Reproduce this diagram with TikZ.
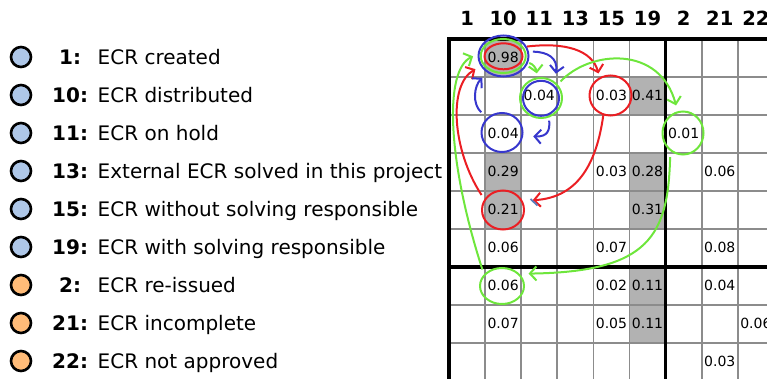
\documentclass[tikz,border=0pt]{standalone}
\usepackage{fontspec}
\setmainfont{DejaVu Sans}
\usetikzlibrary{arrows.meta,shapes.geometric}
\definecolor{cred}{RGB}{235,30,35}
\definecolor{cblue}{RGB}{55,55,205}
\definecolor{cgreen}{RGB}{110,230,60}
\definecolor{csteel}{RGB}{90,125,190}
\definecolor{gridgray}{RGB}{140,140,140}
\definecolor{cellgray}{RGB}{178,178,178}
\definecolor{lblue}{HTML}{AEC7E8}
\definecolor{lorange}{HTML}{FFBB78}
\begin{document}
\begin{tikzpicture}[x=1pt,y=-1pt,
  ring/.style={ellipse, draw, line width=2pt, inner sep=0pt},
  conn/.style={line width=2pt, -{Straight Barb[length=6.5pt,width=14pt]}},
  val/.style={font=\fontsize{14}{16}\selectfont, inner sep=0pt},
  hdr/.style={font=\fontsize{19.5}{22}\selectfont\bfseries, inner sep=0pt},
  legtxt/.style={font=\fontsize{20}{22}\selectfont, inner sep=0pt, anchor=base west},
  legnum/.style={font=\fontsize{20}{22}\selectfont\bfseries, inner sep=0pt, anchor=base west},
  legdot/.style={circle, draw=black, line width=2.6pt, minimum size=20pt, inner sep=0pt},
  thin/.style={draw=gridgray, line width=1.8pt},
  thick/.style={draw=black, line width=3.5pt},
]
\useasboundingbox (0,0) rectangle (767,379);
\begin{scope}
\clip (0,0) rectangle (767,379);
% gray cells
\foreach \r/\c in {0/1,1/5,3/1,3/5,4/1,4/5,6/5,7/5}
  \fill[cellgray] ({449+36.1*\c},{39+38*\r}) rectangle ++(36.1,38);
% thin grid
\foreach \c in {1,2,3,4,5,7,8,9}
  \draw[thin] ({449+36.1*\c},39) -- ({449+36.1*\c},390);
\foreach \r in {1,2,3,4,5,7,8}
  \draw[thin] (449,{39+38*\r}) -- (790,{39+38*\r});
% thick lines
\draw[thick] (449,37.25) -- (449,390);
\draw[thick] (665.6,39) -- (665.6,390);
\draw[thick] (447.25,39) -- (790,39);
\draw[thick] (449,267) -- (790,267);
% header
\foreach \lab [count=\i from 0] in {1,10,11,13,15,19,2,21,22}
  \node[hdr] (h\i) at ({449+36.1*(\i+0.5)},18.7) {\lab};
% values
\foreach \r/\c/\v in {0/1/0.98,1/2/0.04,1/4/0.03,1/5/0.41,2/1/0.04,2/6/0.01,
  3/1/0.29,3/4/0.03,3/5/0.28,3/7/0.06,4/1/0.21,4/5/0.31,5/1/0.06,5/4/0.07,5/7/0.08,
  6/1/0.06,6/4/0.02,6/5/0.11,6/7/0.04,7/1/0.07,7/4/0.05,7/5/0.11,7/8/0.06,8/7/0.03}
  \node[val] (v\r-\c) at ({449+36.1*(\c+0.5)},{57.3+38*\r}) {\v};
\end{scope}
% legend
\foreach \n/\t [count=\r from 0] in {{\ 1:}/ECR created,10:/ECR distributed,11:/ECR on hold,
  13:/External ECR solved in this project,15:/ECR without solving responsible,
  19:/ECR with solving responsible,{\ 2:}/ECR re-issued,21:/ECR incomplete,22:/ECR not approved}{
  \ifnum\r<6 \def\fc{lblue}\else\def\fc{lorange}\fi
  \node[legdot, fill=\fc] (d\r) at (21,{57+38*\r}) {};
  \node[legnum] (n\r) at (52,{64.3+38*\r}) {\n};
  \node[legtxt] (t\r) at (97.5,{64.3+38*\r}) {\t};
}
% rings
\node[ring, cblue, minimum width=50pt, minimum height=41pt] (b98) at (503.5,56) {};
\node[ring, cgreen, minimum width=45pt, minimum height=34pt] (g98) at (503.2,56) {};
\node[ring, cred, minimum width=38pt, minimum height=26pt] (r98) at (503.5,56.3) {};
\node[ring, cgreen, minimum width=42pt, minimum height=40pt] (g04a) at (541,98) {};
\node[ring, cblue, minimum width=36pt, minimum height=35pt] (b04a) at (541,98.3) {};
\node[ring, cblue, minimum width=41pt, minimum height=39pt] (b04b) at (502,132.5) {};
\node[ring, cred, minimum width=42pt, minimum height=40pt] (r03) at (610.5,95.5) {};
\node[ring, cgreen, minimum width=41pt, minimum height=43pt] (g01) at (683,133) {};
\node[ring, cred, minimum width=42pt, minimum height=39pt] (r21) at (503,210) {};
\node[ring, cgreen, minimum width=44pt, minimum height=36pt] (g06) at (502,286) {};
% red arrows
\draw[conn, cred, shorten >=4pt] (b98.22) .. controls (565,42) and (592,50) .. (r03.121);
\draw[conn, cred, shorten >=10pt] (r03.250) .. controls (595,175) and (570,198) .. (r21.25);
\draw[conn, cred, shorten <=5pt, shorten >=6pt] (r21.150) .. controls (452,150) and (448,85) .. (b98.204);
% blue arrows
\draw[conn, cblue, shorten <=4pt, shorten >=8pt] (b98.10) .. controls (548,52) and (558,58) .. (g04a.50);
\draw[conn, cblue, shorten <=3pt, shorten >=10pt] (g04a.292) .. controls (550,130) and (548,137) .. (b04b.351);
\draw[conn, cblue, shorten <=8pt, shorten >=7pt] (b04b.135) .. controls (472,104) and (474,86) .. (b98.226);
\draw[csteel, line width=1.8pt] (530.5,199) -- (537.5,205.5);
% green arrows
\draw[conn, cgreen, shorten <=4pt, shorten >=4pt] (g98.345) .. controls (533,64) and (536,68) .. (g04a.100);
\draw[conn, cgreen, shorten <=4pt, shorten >=6pt] (g04a.39) .. controls (590,50) and (660,45) .. (g01.104);
\draw[conn, cgreen, shorten <=6pt, shorten >=9pt] (g01.235) .. controls (668,235) and (650,272) .. (g06.35);
\draw[conn, cgreen, shorten <=5pt, shorten >=5pt] (g06.147) .. controls (447,160) and (444,70) .. (b98.176);
\end{tikzpicture}
\end{document}
